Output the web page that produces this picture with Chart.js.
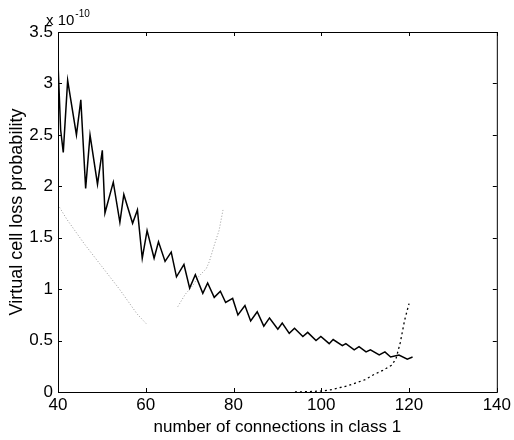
<!DOCTYPE html>
<html>
<head>
<meta charset="utf-8">
<script src="https://cdn.jsdelivr.net/npm/chart.js@4.4.0/dist/chart.umd.min.js"></script>
<style>
  body { margin: 0; background: #fff; }
  canvas { display: block; }
</style>
</head>
<body>
<canvas id="myChart" width="514" height="440"></canvas>
<script>
// valeurs en unites de 1e-10
const mainX = [40, 40.6, 41.2, 42.2, 44.2, 45.2, 46.3, 47.3, 49.0, 50.1, 50.7, 52.6, 54.1, 55.0, 57.0, 58.1,
  59.2, 60.3, 61.9, 62.9, 64.4, 65.8, 67.0, 68.7, 70.0, 71.3, 73.0, 74.1, 75.6, 77.0, 78.2, 79.8,
  81.0, 82.6, 83.9, 85.4, 86.9, 88.2, 90.1, 91.1, 92.7, 93.9, 95.8, 96.9, 98.8, 99.9, 101.8, 102.7,
  104.8, 105.6, 107.5, 108.6, 110.2, 111.2, 113.2, 114.5, 115.8, 117.7, 119.6, 120.8];
const mainY = [3.2, 2.55, 2.33, 3.03, 2.5, 2.84, 1.98, 2.5, 2.02, 2.35, 1.74, 2.04, 1.65, 1.92, 1.64, 1.77,
  1.30, 1.57, 1.30, 1.46, 1.27, 1.36, 1.12, 1.24, 1.01, 1.14, 0.96, 1.06, 0.92, 0.98, 0.87, 0.91,
  0.75, 0.84, 0.69, 0.78, 0.64, 0.72, 0.61, 0.67, 0.57, 0.62, 0.54, 0.58, 0.50, 0.54, 0.47, 0.51,
  0.45, 0.47, 0.41, 0.44, 0.39, 0.41, 0.36, 0.39, 0.34, 0.36, 0.32, 0.34];

// courbe grise, premier morceau
const grayX1 = [40, 42, 44, 46, 48, 50, 52, 54, 56, 58, 60.2];
const grayY1 = [1.82, 1.68, 1.56, 1.44, 1.33, 1.22, 1.11, 1.0, 0.88, 0.76, 0.66];
// courbe grise, deuxieme morceau
const grayX2 = [67.3, 69, 70.8, 72, 73.8, 74.5, 75.7, 76.7, 77.6];
const grayY2 = [0.83, 0.95, 1.04, 1.12, 1.20, 1.27, 1.44, 1.57, 1.77];

// courbe pointillee noire
const dotX = [94, 98, 100, 102, 104, 106, 108, 110, 112, 114, 116, 117, 118, 119, 120];
const dotY = [0, 0.005, 0.01, 0.02, 0.04, 0.06, 0.09, 0.12, 0.17, 0.21, 0.26, 0.32, 0.48, 0.70, 0.86];

const xTicks = [40, 60, 80, 100, 120, 140];
const yTicks = [0, 0.5, 1, 1.5, 2, 2.5, 3, 3.5];

const fam = '"Liberation Sans", Arial, sans-serif';

function toPoints(xs, ys) {
  let pts = [];
  for (let i = 0; i < xs.length; i++) {
    pts.push({ x: xs[i], y: ys[i] });
  }
  return pts;
}

// cadre + petites graduations vers l'interieur, facon matlab
const boxPlugin = {
  id: 'boxPlugin',
  afterDraw(chart) {
    const ctx = chart.ctx;
    const a = chart.chartArea;
    const sx = chart.scales.x;
    const sy = chart.scales.y;
    ctx.save();
    ctx.strokeStyle = '#000';
    ctx.lineWidth = 1;
    ctx.strokeRect(a.left + 0.5, a.top + 0.5, a.right - a.left, a.bottom - a.top);
    ctx.beginPath();
    xTicks.forEach(v => {
      const px = Math.round(sx.getPixelForValue(v)) + 0.5;
      ctx.moveTo(px, a.bottom); ctx.lineTo(px, a.bottom - 4);
      ctx.moveTo(px, a.top); ctx.lineTo(px, a.top + 4);
    });
    yTicks.forEach(v => {
      const py = Math.round(sy.getPixelForValue(v)) + 0.5;
      ctx.moveTo(a.left, py); ctx.lineTo(a.left + 4, py);
      ctx.moveTo(a.right, py); ctx.lineTo(a.right - 4, py);
    });
    ctx.stroke();
    // facteur d'echelle
    ctx.fillStyle = '#000';
    ctx.textBaseline = 'alphabetic';
    ctx.font = '15px ' + fam;
    const x0 = a.left - 12;
    ctx.fillText('x 10', x0, a.top - 7);
    const w = ctx.measureText('x 10').width;
    ctx.font = '10px ' + fam;
    ctx.fillText('-10', x0 + w + 1, a.top - 15);
    ctx.restore();
  }
};

const config = {
  type: 'scatter',
  data: {
    datasets: [
      {
        label: 'main',
        data: toPoints(mainX, mainY),
        showLine: true,
        borderColor: '#000',
        borderWidth: 1.5,
        pointRadius: 0
      },
      {
        label: 'gray1',
        data: toPoints(grayX1, grayY1),
        showLine: true,
        borderColor: '#999',
        borderWidth: 1,
        borderDash: [1, 2],
        pointRadius: 0
      },
      {
        label: 'gray2',
        data: toPoints(grayX2, grayY2),
        showLine: true,
        borderColor: '#999',
        borderWidth: 1,
        borderDash: [1, 2],
        pointRadius: 0
      },
      {
        label: 'dot',
        data: toPoints(dotX, dotY),
        showLine: true,
        borderColor: '#000',
        borderWidth: 1.3,
        borderDash: [2, 3],
        pointRadius: 0
      }
    ]
  },
  options: {
    responsive: false,
    animation: false,
    layout: { padding: { left: 0, right: 16, top: 32, bottom: 0 } },
    plugins: { legend: { display: false }, tooltip: { enabled: false } },
    scales: {
      x: {
        type: 'linear',
        min: 40,
        max: 140,
        grid: { display: false, drawTicks: false },
        border: { display: false },
        afterBuildTicks: s => { s.ticks = xTicks.map(v => ({ value: v })); },
        afterFit: s => { s.height = 48; },
        ticks: {
          color: '#000',
          padding: 3,
          maxRotation: 0,
          font: { size: 17, family: fam }
        },
        title: {
          display: true,
          text: 'number of connections in class 1',
          color: '#000',
          padding: { top: 0, bottom: 2 },
          font: { size: 17, family: fam }
        }
      },
      y: {
        type: 'linear',
        min: 0,
        max: 3.5,
        grid: { display: false, drawTicks: false },
        border: { display: false },
        afterBuildTicks: s => { s.ticks = yTicks.map(v => ({ value: v })); },
        afterFit: s => { s.width = 58; },
        ticks: {
          color: '#000',
          padding: 5,
          callback: v => String(v),
          font: { size: 17, family: fam }
        },
        title: {
          display: true,
          text: 'Virtual cell loss probability',
          color: '#000',
          padding: { top: 6, bottom: 0 },
          font: { size: 18, family: fam }
        }
      }
    }
  },
  plugins: [boxPlugin]
};

window.addEventListener('load', () => {
  const myChart = new Chart(document.getElementById('myChart'), config);
});
</script>
</body>
</html>
